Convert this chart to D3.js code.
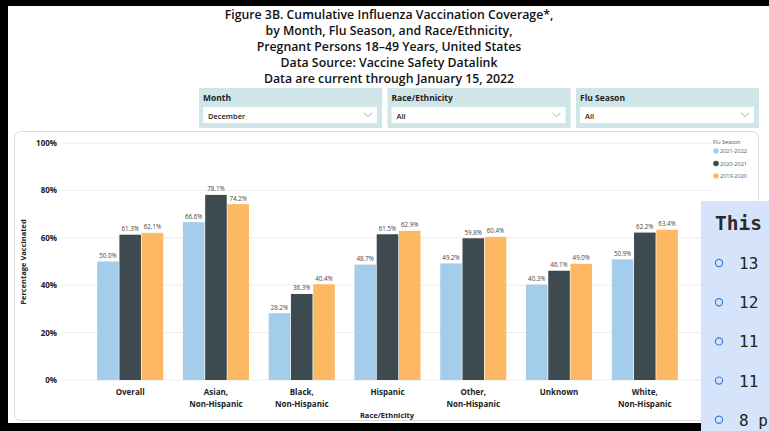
<!DOCTYPE html>
<html>
<head>
<meta charset="utf-8">
<script src="https://cdn.jsdelivr.net/npm/d3@7"></script>
<style>
  body { margin: 0; background: #fff; }
  svg { display: block; font-family: "Open Sans", "Noto Sans", sans-serif; }
</style>
</head>
<body>
<div id="chart"></div>
<script>
// chart data
const categories = ['Overall', 'Asian,\nNon-Hispanic', 'Black,\nNon-Hispanic', 'Hispanic',
    'Other,\nNon-Hispanic', 'Unknown', 'White,\nNon-Hispanic'];
const seasons = ['2021-2022', '2020-2021', '2019-2020'];
const season2122 = [50.0, 66.6, 28.2, 48.7, 49.2, 40.3, 50.9];
const season2021 = [61.3, 78.1, 36.3, 61.5, 59.8, 46.1, 62.2];
const season1920 = [62.1, 74.2, 40.4, 62.9, 60.4, 49.0, 63.4];
const yTicks = [0, 20, 40, 60, 80, 100];
const titleLines = [
    'Figure 3B. Cumulative Influenza Vaccination Coverage*,',
    'by Month, Flu Season, and Race/Ethnicity,',
    'Pregnant Persons 18\u201349 Years, United States',
    'Data Source: Vaccine Safety Datalink',
    'Data are current through January 15, 2022'
];
const filters = [
    {label: 'Month', value: 'December'},
    {label: 'Race/Ethnicity', value: 'All'},
    {label: 'Flu Season', value: 'All'}
];
const sideLines = ['13', '12', '11', '11', '8 p'];

const seriesValues = [season2122, season2021, season1920];
const colors = ['#a3cdea', '#3d4b50', '#fdb863'];

const width = 769, height = 431;
const svg = d3.select('#chart').append('svg')
    .attr('width', width)
    .attr('height', height);

// black frame of the screenshot
svg.append('rect').attr('x', 0).attr('y', 0).attr('width', width).attr('height', 6).attr('fill', '#000');
svg.append('rect').attr('x', 0).attr('y', 0).attr('width', 8).attr('height', height).attr('fill', '#000');
svg.append('rect').attr('x', 0).attr('y', 423).attr('width', width).attr('height', 8).attr('fill', '#000');

// title
svg.append('g').selectAll('text')
    .data(titleLines)
    .join('text')
    .attr('x', 389)
    .attr('y', (d, i) => 19 + i * 16)
    .attr('text-anchor', 'middle')
    .attr('font-size', 12.3)
    .attr('font-weight', 600)
    .attr('fill', '#111')
    .text(d => d);

// filter slicers
const slicer = svg.append('g').selectAll('g')
    .data(filters)
    .join('g')
    .attr('transform', (d, i) => `translate(${199 + i * 188.5},88)`);
slicer.append('rect')
    .attr('width', 183).attr('height', 40)
    .attr('fill', '#cfe5e8');
slicer.append('text')
    .attr('x', 4).attr('y', 13)
    .attr('font-size', 8.5).attr('font-weight', 700)
    .attr('fill', '#222')
    .text(d => d.label);
slicer.append('rect')
    .attr('x', 4).attr('y', 19).attr('width', 174).attr('height', 16)
    .attr('fill', '#fff');
slicer.append('text')
    .attr('x', 9).attr('y', 30.5)
    .attr('font-size', 7.5).attr('font-weight', 600)
    .attr('fill', '#222')
    .text(d => d.value);
slicer.append('path')
    .attr('d', 'M165,25 l4,3.5 l4,-3.5')
    .attr('fill', 'none').attr('stroke', '#999').attr('stroke-width', 0.8);

// card
svg.append('rect')
    .attr('x', 14.5).attr('y', 131.5).attr('width', 744).attr('height', 289)
    .attr('rx', 6)
    .attr('fill', '#fff').attr('stroke', '#dcdcdc');

// scales
const x = d3.scaleBand()
    .domain(categories)
    .range([62, 713])
    .paddingInner(0.23)
    .paddingOuter(0.41);

const xInner = d3.scaleBand()
    .domain(seasons)
    .range([0, x.bandwidth()])
    .paddingInner(0.03);

const y = d3.scaleLinear()
    .domain([0, 100])
    .range([380, 143]);

// gridlines
svg.append('g').selectAll('line')
    .data(yTicks)
    .join('line')
    .attr('x1', 62).attr('x2', 713)
    .attr('y1', d => y(d)).attr('y2', d => y(d))
    .attr('stroke', '#ececec');

// y axis
const yAxis = svg.append('g')
    .attr('transform', 'translate(62,0)')
    .call(d3.axisLeft(y).tickValues(yTicks).tickFormat(d => d + '%').tickSize(0).tickPadding(5));
yAxis.select('.domain').remove();
yAxis.selectAll('text')
    .attr('font-size', 8).attr('font-weight', 700)
    .attr('font-family', '"Open Sans", sans-serif')
    .attr('fill', '#222');

svg.append('text')
    .attr('transform', 'translate(26,262) rotate(-90)')
    .attr('text-anchor', 'middle')
    .attr('font-size', 7.5).attr('font-weight', 700)
    .attr('fill', '#222')
    .text('Percentage Vaccinated');

// bars
const groups = svg.append('g').selectAll('g')
    .data(categories)
    .join('g')
    .attr('transform', d => `translate(${x(d)},0)`);

groups.selectAll('rect')
    .data((d, ci) => seasons.map((s, si) => ({s, v: seriesValues[si][ci], c: colors[si]})))
    .join('rect')
    .attr('x', d => xInner(d.s))
    .attr('width', xInner.bandwidth())
    .attr('y', d => y(d.v))
    .attr('height', d => y(0) - y(d.v))
    .attr('fill', d => d.c);

groups.selectAll('.value-label')
    .data((d, ci) => seasons.map((s, si) => ({s, v: seriesValues[si][ci]})))
    .join('text')
    .attr('class', 'value-label')
    .attr('x', d => xInner(d.s) + xInner.bandwidth() / 2)
    .attr('y', d => y(d.v) - 3.5)
    .attr('text-anchor', 'middle')
    .attr('font-size', 6.2)
    .attr('fill', '#444')
    .text(d => d.v.toFixed(1) + '%');

// x axis labels
const xAxis = svg.append('g')
    .attr('transform', 'translate(0,380)')
    .call(d3.axisBottom(x).tickSize(0).tickFormat(''));
xAxis.select('.domain').remove();
xAxis.selectAll('.tick').each(function(d) {
    const t = d3.select(this).append('text')
        .attr('text-anchor', 'middle')
        .attr('font-size', 8).attr('font-weight', 700)
        .attr('font-family', '"Open Sans", sans-serif')
        .attr('fill', '#222');
    d.split('\n').forEach((line, i) => {
        t.append('tspan').attr('x', 0).attr('y', 15 + i * 12).text(line);
    });
});

svg.append('text')
    .attr('x', 387).attr('y', 418)
    .attr('text-anchor', 'middle')
    .attr('font-size', 7.5).attr('font-weight', 700)
    .attr('fill', '#222')
    .text('Race/Ethnicity');

// legend
const legend = svg.append('g').attr('transform', 'translate(713,144)');
legend.append('text')
    .attr('x', 0).attr('y', 0)
    .attr('font-size', 5.5).attr('fill', '#555')
    .text('Flu Season');
const legendItem = legend.selectAll('.legend-item')
    .data(seasons)
    .join('g')
    .attr('class', 'legend-item')
    .attr('transform', (d, i) => `translate(0,${9 + i * 12.5})`);
legendItem.append('circle')
    .attr('cx', 3).attr('cy', -2).attr('r', 2.8)
    .attr('fill', (d, i) => colors[i]);
legendItem.append('text')
    .attr('x', 7).attr('y', 0)
    .attr('font-size', 5.5).attr('fill', '#555')
    .text(d => d);

// overlapping side panel from the screenshot
const side = svg.append('g').attr('transform', 'translate(701,201)');
side.append('rect')
    .attr('width', 68).attr('height', 230)
    .attr('fill', '#d6e4fb');
side.append('text')
    .attr('x', 14).attr('y', 29)
    .attr('font-family', '"DejaVu Sans Mono", monospace')
    .attr('font-size', 19.5)
    .attr('font-weight', 700)
    .attr('fill', '#2a2a2a')
    .text('This');
const sideRow = side.selectAll('.side-row')
    .data(sideLines)
    .join('g')
    .attr('class', 'side-row')
    .attr('transform', (d, i) => `translate(0,${62 + i * 39.2})`);
sideRow.append('circle')
    .attr('cx', 18).attr('cy', 0).attr('r', 3.6)
    .attr('fill', 'none').attr('stroke', '#3b7dd8').attr('stroke-width', 1.2);
sideRow.append('text')
    .attr('x', 38).attr('y', 6)
    .attr('font-family', '"DejaVu Sans Mono", monospace')
    .attr('font-size', 16)
    .attr('fill', '#222')
    .text(d => d);
</script>
</body>
</html>
